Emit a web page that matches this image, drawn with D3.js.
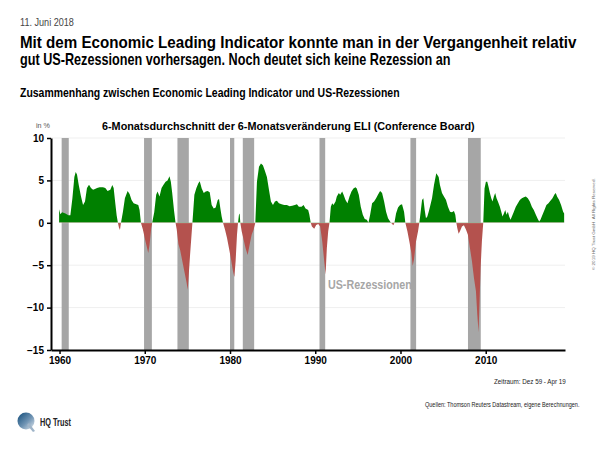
<!DOCTYPE html>
<html>
<head>
<meta charset="utf-8">
<script src="https://cdn.jsdelivr.net/npm/d3@7"></script>
<style>
  html, body { margin: 0; padding: 0; background: #fff; }
  svg { display: block; }
  text { font-family: "Liberation Sans", Arial, Helvetica, sans-serif; }
</style>
</head>
<body>
<div id="chart"></div>
<script>
// ---------------- DATA ----------------
const eliDates = [
  1959.95, 1960.10, 1960.30, 1960.69, 1961.04, 1961.27, 1961.51, 1961.74, 1961.90, 1962.05,
  1962.25, 1962.52, 1962.76, 1962.99, 1963.22, 1963.46, 1963.69, 1963.93, 1964.16, 1964.40,
  1964.71, 1965.10, 1965.37, 1965.64, 1965.96, 1966.19, 1966.35, 1966.50, 1966.70, 1966.85,
  1966.97, 1967.09, 1967.21, 1967.44, 1967.67, 1967.99, 1968.22, 1968.45, 1968.69, 1969.00,
  1969.24, 1969.39, 1969.55, 1969.78, 1970.09, 1970.41, 1970.56, 1970.76, 1970.87, 1971.11,
  1971.34, 1971.50, 1971.73, 1971.97, 1972.20, 1972.44, 1972.67, 1972.90, 1973.06, 1973.22,
  1973.45, 1973.61, 1973.75, 1973.95, 1974.15, 1974.50, 1974.90, 1975.04, 1975.30, 1975.59,
  1975.82, 1976.06, 1976.29, 1976.45, 1976.68, 1976.92, 1977.15, 1977.38, 1977.62, 1977.85,
  1978.09, 1978.32, 1978.56, 1978.71, 1978.87, 1979.02, 1979.18, 1979.41, 1979.65, 1979.88,
  1980.12, 1980.35, 1980.51, 1980.66, 1980.82, 1980.94, 1981.05, 1981.13, 1981.21, 1981.37,
  1981.60, 1981.83, 1982.07, 1982.30, 1982.54, 1982.77, 1982.97, 1983.16, 1983.40, 1983.63,
  1983.86, 1984.10, 1984.33, 1984.57, 1984.80, 1985.04, 1985.27, 1985.50, 1985.74, 1986.05,
  1986.36, 1986.67, 1986.99, 1987.30, 1987.61, 1987.85, 1988.08, 1988.39, 1988.63, 1988.86,
  1989.17, 1989.30, 1989.47, 1989.61, 1989.88, 1990.11, 1990.35, 1990.58, 1990.82, 1991.05,
  1991.21, 1991.36, 1991.52, 1991.67, 1991.83, 1991.99, 1992.14, 1992.38, 1992.53, 1992.77,
  1992.92, 1993.16, 1993.31, 1993.55, 1993.78, 1994.02, 1994.25, 1994.48, 1994.72, 1994.87,
  1995.11, 1995.34, 1995.58, 1995.81, 1996.05, 1996.24, 1996.44, 1996.67, 1996.90, 1997.14,
  1997.37, 1997.61, 1997.84, 1998.08, 1998.31, 1998.54, 1998.78, 1998.90, 1999.01, 1999.17,
  1999.29, 1999.48, 1999.71, 1999.95, 2000.18, 2000.42, 2000.57, 2000.81, 2001.04, 2001.28,
  2001.43, 2001.59, 2001.82, 2002.06, 2002.21, 2002.37, 2002.53, 2002.68, 2002.84, 2002.99,
  2003.15, 2003.31, 2003.46, 2003.70, 2003.93, 2004.20, 2004.48, 2004.63, 2004.87, 2005.10,
  2005.34, 2005.57, 2005.81, 2006.04, 2006.27, 2006.43, 2006.55, 2006.66, 2006.82, 2006.98,
  2007.21, 2007.44, 2007.68, 2007.91, 2008.15, 2008.38, 2008.62, 2008.85, 2009.01, 2009.16,
  2009.28, 2009.40, 2009.55, 2009.71, 2009.86, 2010.02, 2010.18, 2010.33, 2010.49, 2010.65,
  2010.80, 2010.96, 2011.11, 2011.27, 2011.43, 2011.66, 2011.82, 2011.97, 2012.13, 2012.29,
  2012.44, 2012.60, 2012.75, 2012.91, 2013.07, 2013.30, 2013.53, 2013.77, 2014.00, 2014.24,
  2014.47, 2014.70, 2014.94, 2015.17, 2015.41, 2015.64, 2015.88, 2016.11, 2016.27, 2016.42,
  2016.66, 2016.89, 2017.12, 2017.36, 2017.59, 2017.83, 2018.06, 2018.22, 2018.37, 2018.61,
  2018.84, 2019.08, 2019.20
];
const eliValues = [
  1.6, 1.0, 1.25, 1.1, 0.9, 0.9, 2.9, 5.4, 6.0, 5.7,
  4.5, 3.1, 2.1, 2.5, 4.1, 4.5, 4.1, 3.9, 4.0, 4.1,
  4.2, 4.2, 4.1, 3.75, 3.9, 4.45, 4.1, 2.7, 0.9, 0,
  -0.55, -0.85, 0, 1.3, 2.9, 3.75, 3.4, 2.7, 2.3, 2.2,
  2.1, 1.5, 0, -0.8, -2.2, -3.55, -2.6, -0.6, 0, 1.25,
  3.3, 3.7, 3.1, 4.1, 4.5, 4.85, 5.0, 5.5, 4.85, 3.5,
  1.3, 0, -0.8, -2.5, -3.2, -5.0, -7.0, -7.9, -4.0, 0,
  3.3, 4.1, 4.65, 4.9, 4.05, 3.5, 3.7, 3.75, 3.6, 2.1,
  1.7, 1.8, 2.7, 2.8, 1.7, 0.75, 0, -0.8, -1.8, -3.0,
  -4.3, -5.7, -6.4, -4.5, -1.4, 0, 0.95, 1.1, 0, -1.0,
  -2.0, -3.0, -3.8, -2.6, -1.4, -0.8, 0, 4.85, 6.6, 7.0,
  6.8, 6.1, 5.4, 3.9, 2.5, 2.1, 2.5, 2.6, 2.3, 2.2,
  2.1, 2.1, 1.95, 2.0, 2.1, 2.2, 1.9, 1.9, 2.1, 1.7,
  1.5, 1.0, 0, -0.45, -0.7, -0.25, -0.15, -0.45, -2.2, -4.5,
  -6.1, -3.0, -1.0, 0, 1.9, 2.3, 2.1, 2.5, 3.1, 3.5,
  3.3, 3.7, 3.35, 2.7, 2.3, 3.1, 3.7, 4.05, 4.2, 4.05,
  3.3, 1.9, 0.95, 0.45, 0.35, 0, 0.95, 2.3, 2.5, 2.9,
  3.35, 3.75, 3.5, 2.5, 1.3, 0.55, 0.15, 0, -0.15, -0.3,
  0, 1.1, 1.8, 2.1, 2.2, 1.3, 0, -1.0, -2.2, -3.55,
  -5.1, -4.3, -2.2, -1.0, 0, 1.3, 2.7, 2.9, 1.5, 0.55,
  0.75, 1.3, 1.9, 2.9, 4.45, 5.85, 5.4, 4.45, 3.5, 3.1,
  2.7, 1.9, 1.3, 1.25, 1.4, 0.95, 0, -0.6, -1.3, -1.0,
  -0.45, -0.3, -0.8, -1.4, -3.0, -4.5, -6.5, -8.05, -10.8, -12.9,
  -9.2, -5.3, -2.2, 0, 4.05, 4.85, 4.85, 4.25, 3.5, 2.9,
  2.5, 3.1, 3.5, 2.9, 2.5, 1.9, 1.3, 0.75, 1.1, 1.5,
  0.95, 1.3, 0.75, 0.35, 0.75, 1.3, 1.9, 2.3, 2.7, 2.9,
  3.0, 3.1, 2.9, 2.5, 1.9, 1.5, 0.95, 0.45, 0.15, 0.35,
  0.95, 1.5, 2.1, 2.3, 2.6, 2.9, 3.35, 3.5, 3.1, 2.7,
  2.1, 1.3, 1.1
];
// US recessions (NBER), start/end as decimal years
const recessionStarts = [1960.25, 1969.917, 1973.833, 1980.0, 1981.5, 1990.5, 2001.167, 2007.917];
const recessionEnds   = [1961.083, 1970.833, 1975.167, 1980.5, 1982.833, 1991.167, 2001.833, 2009.417];
const yTicks = [-15, -10, -5, 0, 5, 10];
const gridValues = [-10, -5, 5, 10];
const xTicks = [1960, 1970, 1980, 1990, 2000, 2010];

const dateText = "11. Juni 2018";
const titleLines = [
  "Mit dem Economic Leading Indicator konnte man in der Vergangenheit relativ",
  "gut US-Rezessionen vorhersagen. Noch deutet sich keine Rezession an"
];
const subtitleText = "Zusammenhang zwischen Economic Leading Indicator und US-Rezessionen";
const chartTitleText = "6-Monatsdurchschnitt der 6-Monatsveränderung ELI (Conference Board)";
const unitText = "in %";
const recessionLabel = "US-Rezessionen";
const periodText = "Zeitraum: Dez 59 - Apr 19";
const sourceText = "Quellen: Thomson Reuters Datastream, eigene Berechnungen.";
const copyrightText = "© 2019 HQ Trust GmbH. All Rights Reserved.";
const logoText = "HQ Trust";

// ---------------- CHART ----------------
const W = 600, H = 450;
const svg = d3.select("#chart").append("svg").attr("width", W).attr("height", H);
const defs = svg.append("defs");

const x = d3.scaleLinear().domain([1959.0, 2019.3]).range([51, 565]);
const y = d3.scaleLinear().domain([-15, 10]).range([350, 138]);

const data = eliDates.map((d, i) => ({ date: d, value: eliValues[i] }));
const recessions = recessionStarts.map((s, i) => ({ start: s, end: recessionEnds[i] }));

// Text squeezed horizontally to a target width (via a scale transform)
function fittedText(opts) {
  const g = svg.append("g");
  const t = g.append("text").attr("x", 0).attr("y", 0)
    .attr("font-size", opts.size)
    .attr("font-weight", opts.weight || "normal")
    .attr("fill", opts.fill || "#000")
    .text(opts.text);
  const natural = t.node().getComputedTextLength();
  const s = opts.width / natural;
  let tx = opts.x;
  if (opts.anchor === "end") tx = opts.x - opts.width;
  if (opts.anchor === "middle") tx = opts.x - opts.width / 2;
  const rot = opts.rotate ? ` rotate(${opts.rotate})` : "";
  if (opts.rotate) {
    g.attr("transform", `translate(${opts.x},${opts.y})${rot} scale(${s},1)`);
  } else {
    g.attr("transform", `translate(${tx},${opts.y}) scale(${s},1)`);
  }
  return g;
}

// Header texts
fittedText({ text: dateText, x: 20, y: 25.5, size: 10, fill: "#444", width: 54 });
const titleWidths = [557, 431];
titleLines.forEach((t, i) => {
  fittedText({ text: t, x: 20, y: 48 + i * 16.5, size: 16.5, weight: "bold", width: titleWidths[i] });
});
fittedText({ text: subtitleText, x: 20, y: 97, size: 12, weight: "bold", width: 380 });
fittedText({ text: chartTitleText, x: 102, y: 130, size: 10.5, weight: "bold", width: 373 });
fittedText({ text: unitText, x: 36, y: 128.3, size: 8, fill: "#555", width: 14 });

// Gridlines
svg.append("g").selectAll("line").data(gridValues).join("line")
  .attr("x1", x.range()[0]).attr("x2", x.range()[1])
  .attr("y1", d => y(d)).attr("y2", d => y(d))
  .attr("stroke", "#efefef").attr("stroke-width", 1);

// Recession bars
svg.append("g").selectAll("rect").data(recessions).join("rect")
  .attr("x", d => x(d.start)).attr("width", d => x(d.end) - x(d.start))
  .attr("y", y(10)).attr("height", y(-15) - y(10))
  .attr("fill", "#a6a6a6");

// Clip paths for positive / negative parts
defs.append("clipPath").attr("id", "clipPos").append("rect")
  .attr("x", 0).attr("y", 0).attr("width", W).attr("height", y(0));
defs.append("clipPath").attr("id", "clipNeg").append("rect")
  .attr("x", 0).attr("y", y(0)).attr("width", W).attr("height", H - y(0));

const area = d3.area()
  .x(d => x(d.date))
  .y0(y(0))
  .y1(d => y(d.value))
  .curve(d3.curveLinear);

svg.append("path").datum(data).attr("d", area)
  .attr("fill", "#008000").attr("clip-path", "url(#clipPos)");
svg.append("path").datum(data).attr("d", area)
  .attr("fill", "#b4524e").attr("clip-path", "url(#clipNeg)");

// zero line (faint)
svg.append("line")
  .attr("x1", x(eliDates[0])).attr("x2", x(eliDates[eliDates.length - 1]))
  .attr("y1", y(0)).attr("y2", y(0))
  .attr("stroke", "#ffffff").attr("stroke-opacity", 0.35).attr("stroke-width", 0.8);

// Axes
const yAxis = d3.axisLeft(y).tickValues(yTicks).tickSize(4).tickSizeOuter(0).tickPadding(3);
const gy = svg.append("g").attr("transform", `translate(${x.range()[0]},0)`).call(yAxis);
gy.select(".domain").attr("stroke", "#000").attr("stroke-width", 2);
gy.selectAll(".tick line").attr("stroke", "#000").attr("stroke-width", 1.5);
gy.selectAll(".tick text").attr("font-size", 10).attr("font-weight", "bold")
  .attr("fill", "#000").attr("font-family", '"Liberation Sans", Arial, sans-serif');

const xAxis = d3.axisBottom(x).tickValues(xTicks).tickFormat(d3.format("d"))
  .tickSize(4).tickSizeOuter(0).tickPadding(3);
const gx = svg.append("g").attr("transform", `translate(0,${y(-15)})`).call(xAxis);
gx.select(".domain").attr("stroke", "#000").attr("stroke-width", 2);
gx.selectAll(".tick line").attr("stroke", "#000").attr("stroke-width", 1.5);
gx.selectAll(".tick text").attr("font-size", 10).attr("font-weight", "bold")
  .attr("fill", "#000").attr("font-family", '"Liberation Sans", Arial, sans-serif');

// Recession label
fittedText({ text: recessionLabel, x: 328, y: 289, size: 12, weight: "bold", fill: "#a6a6a6", width: 84 });

// Footer texts
fittedText({ text: periodText, x: 566, y: 384, size: 7, fill: "#222", width: 72, anchor: "end" });
fittedText({ text: sourceText, x: 580, y: 407, size: 6.5, fill: "#222", width: 155, anchor: "end" });

// Copyright (vertical)
fittedText({ text: copyrightText, x: 595, y: 270, size: 4, fill: "#666", width: 92, rotate: -90 });

// Logo
const grad = defs.append("linearGradient").attr("id", "logoGrad")
  .attr("x1", "0%").attr("y1", "0%").attr("x2", "100%").attr("y2", "100%");
grad.append("stop").attr("offset", "0%").attr("stop-color", "#0e4a78");
grad.append("stop").attr("offset", "55%").attr("stop-color", "#6f93b3");
grad.append("stop").attr("offset", "100%").attr("stop-color", "#e4eaf0");
svg.append("circle").attr("cx", 26).attr("cy", 421).attr("r", 8.5).attr("fill", "url(#logoGrad)");
svg.append("path").attr("d", "M29,423 L35,431 L33,432 L27,425 Z").attr("fill", "#9fb4c8");
fittedText({ text: logoText, x: 40, y: 426, size: 10, weight: "bold", fill: "#222", width: 31 });
</script>
</body>
</html>
